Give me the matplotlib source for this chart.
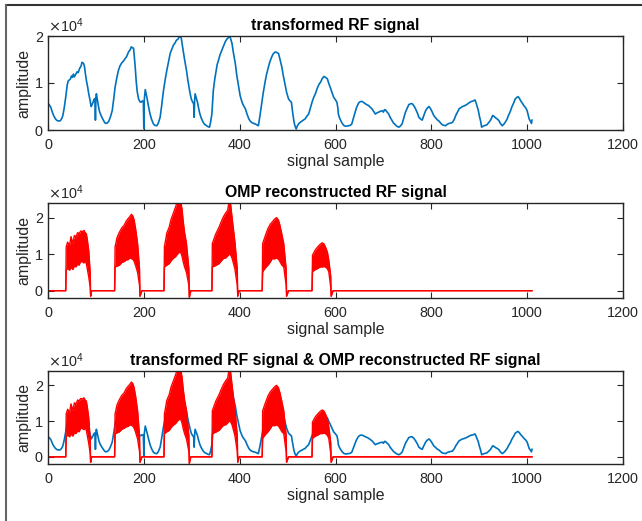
import matplotlib
matplotlib.use('Agg')
import matplotlib.pyplot as plt
from matplotlib.lines import Line2D
from matplotlib.ticker import ScalarFormatter

plt.rcParams['font.family'] = ['Liberation Sans', 'DejaVu Sans']

# transformed RF signal (sample index, amplitude)
blue_n = [0, 3, 6, 9, 12, 16, 19, 23, 26, 29, 31, 34, 37, 40, 42, 45, 47, 49, 51, 53, 55, 58, 61, 63, 66, 69, 71, 74, 76, 78,
          80, 83, 85, 88, 90, 92, 94, 96, 98, 99, 100, 101, 103, 104.5, 106, 108, 111, 114, 117, 120, 124, 127, 130, 134, 137,
          140, 144, 147, 150, 154, 157, 161, 164, 168, 171, 174, 176, 178.5, 180, 182, 184, 186, 189, 192, 194, 197, 199, 200,
          201, 203, 205, 207, 210, 213, 216, 220, 223, 227, 230, 234, 237, 241, 245, 248, 252, 255, 258, 262, 265, 268, 271,
          275, 278, 282, 285, 289, 292, 296, 299, 302, 304, 305, 306, 307, 309, 312, 314, 317, 320, 324, 327, 331, 334, 337,
          339, 342, 345, 348, 351, 353, 356, 359, 363, 366, 370, 373, 376, 379, 381, 384, 387, 391, 394, 398, 401, 405, 408,
          412, 415, 419, 422, 425, 429, 432, 436, 439, 442, 446, 449, 453, 456, 460, 463, 467, 470, 474, 477, 481, 484, 488,
          491, 495, 498, 502, 505, 508, 510, 513, 515, 518, 520, 523, 526, 530, 533, 537, 540, 544, 547, 551, 554, 558, 562,
          566, 569, 572, 576, 579, 583, 586, 590, 593, 596, 600, 603, 605, 606, 608, 611, 614, 618, 622, 627, 631, 634, 637,
          641, 644, 648, 651, 655, 658, 662, 665, 669, 672, 676, 680, 683, 686, 690, 694, 697, 700, 702, 704, 707, 711, 714,
          718, 721, 725, 728, 732, 735, 739, 742, 746, 750, 753, 757, 760, 764, 767, 771, 774, 778, 781, 784, 788, 791, 795,
          798, 802, 805, 809, 812, 816, 820, 823, 826, 830, 833, 837, 841, 844, 848, 851, 855, 858, 862, 865, 868, 872, 875,
          879, 882, 885, 888, 891, 893, 895, 898, 900, 903, 905, 908, 910, 913, 916, 920, 923, 926, 928, 931, 934, 938, 941,
          944, 948, 951, 954, 958, 961, 965, 968, 972, 975, 978, 981, 984, 986, 990, 993, 997, 1000, 1002, 1004, 1007, 1009,
          1010]
blue_amp = [5700, 5300, 4800, 3800, 3000, 2300, 2000, 1900, 2000, 2500, 3100, 4800, 7000, 9500, 10400, 10700, 10900, 11500,
            11200, 11900, 11300, 11900, 12400, 12200, 13100, 13600, 14400, 14200, 13600, 12000, 10600, 9000, 7700, 6200, 5000,
            5400, 5900, 6500, 6700, 2100, 6900, 7700, 6500, 5600, 4600, 3800, 3000, 2400, 1800, 1400, 1500, 1900, 2700, 4100,
            6500, 9100, 11300, 12700, 13600, 14300, 14600, 15200, 15600, 16600, 17000, 17700, 17500, 17400, 15800, 13400, 10500,
            8300, 6600, 6000, 5900, 6200, 6000, 300, 6500, 8600, 7600, 6600, 4900, 3400, 2300, 1300, 1000, 900, 1400, 2700,
            5000, 8400, 11000, 12700, 14800, 16300, 17100, 18100, 18500, 19100, 19300, 20000, 19600, 17000, 15000, 12700, 10500,
            8100, 6600, 5900, 5600, 2700, 6200, 7700, 7000, 5900, 4800, 3400, 2500, 1600, 1200, 900, 700, 600, 1500, 3400, 8400,
            10800, 12700, 13900, 14900, 16000, 17000, 17800, 18800, 19300, 19600, 19900, 19500, 18400, 16400, 14100, 11600, 9100,
            7300, 5900, 5200, 4500, 3500, 2400, 1900, 1600, 1400, 1300, 1100, 900, 2800, 5600, 7800, 10200, 11800, 13400, 14500,
            15600, 16200, 16600, 16500, 16300, 15100, 13400, 11600, 9500, 8000, 6600, 6200, 5900, 4200, 2000, 1000, 200, 800,
            1300, 1600, 1900, 2100, 2400, 2900, 3400, 4500, 5900, 6800, 7700, 8900, 9800, 10200, 10900, 11400, 11200, 10900, 9900,
            8800, 7900, 7000, 6400, 5900, 4600, 3400, 2700, 2000, 1400, 900, 800, 900, 1000, 1300, 2400, 3800, 4800, 5700, 6000,
            6100, 5900, 5600, 5400, 5200, 4900, 4500, 3900, 3400, 3600, 3800, 4000, 4100, 3800, 4300, 4300, 3900, 3400, 2700,
            2000, 1500, 1100, 800, 600, 800, 1300, 2400, 3800, 4700, 5400, 5600, 5600, 5100, 4500, 3600, 2700, 2300, 2100, 3000,
            4100, 4600, 5000, 4600, 3800, 3100, 2600, 2200, 1900, 1400, 1100, 1000, 900, 1200, 1400, 1500, 1600, 2300, 3100,
            3900, 4500, 4800, 5000, 5100, 5300, 5500, 5800, 6000, 6100, 6200, 6400, 5900, 5200, 4200, 3100, 1800, 600, 800, 900,
            1000, 1100, 1600, 2000, 2600, 3100, 2900, 2600, 2300, 2000, 1400, 900, 1200, 1600, 2300, 3100, 4000, 4900, 5800,
            6600, 6900, 7100, 6700, 6300, 5700, 5200, 4700, 4100, 3200, 2400, 1800, 1400, 2100]

# OMP reconstruction: the bursts oscillate fast, so keep their upper / lower envelopes
red_n = [0, 37, 38, 41, 45, 48, 52, 55, 58, 62, 65, 68, 72, 75, 78, 80, 82, 85, 88, 89, 91,
         139, 140, 144, 149, 154, 159, 163, 167, 171, 174, 177, 180, 183, 187, 191, 192, 196,
         242, 243, 248, 253, 257, 261, 266, 270, 274, 277, 280, 282, 285, 289, 294, 295, 298,
         342, 343, 350, 357, 362, 366, 371, 375, 378, 381, 384, 387, 390, 395, 396, 399,
         447, 448, 454, 459, 464, 468, 473, 477, 481, 484, 488, 492, 497, 498, 502,
         551, 552, 558, 563, 568, 572, 576, 579, 583, 586, 590, 591, 595, 1010]
red_hi = [0, 0, 12000, 13300, 12400, 14800, 12900, 15100, 14700, 15900, 15600, 16300, 16200, 16500, 15800, 15600, 14000,
          11000, 5000, -1500, 0,
          0, 12000, 14500, 16000, 17200, 17900, 19000, 19700, 20300, 20900, 20500, 19200, 16800, 12900, 6000, -1500, 0,
          0, 12000, 15800, 17400, 19600, 21000, 22800, 24500, 24500, 24500, 22000, 19200, 16000, 12900, 6000, -1800, 0,
          0, 12900, 15500, 17400, 19000, 20200, 21300, 22000, 24500, 23800, 20200, 16800, 13500, 6000, -1500, 0,
          0, 12900, 15200, 17000, 18200, 18800, 19600, 20000, 19300, 17900, 15500, 12900, 6000, -1500, 0,
          0, 9700, 11200, 12000, 12700, 13100, 12800, 12000, 10600, 8400, 4000, -1500, 0, 0]
red_lo = [0, 0, 5600, 6200, 5600, 6400, 5800, 6800, 6500, 7300, 7000, 8000, 7900, 7600, 8100, 7400, 6000, 3800, 1000, -1500,
          0,
          0, 6500, 6700, 7000, 7700, 8000, 8400, 8500, 9000, 8800, 8600, 8000, 6800, 5000, 1500, -1500, 0,
          0, 6500, 7000, 7400, 8200, 8800, 9300, 10000, 10500, 10500, 9300, 8000, 6500, 5000, 1500, -1800, 0,
          0, 6500, 6900, 7400, 8200, 8800, 9000, 9500, 10000, 9800, 9000, 7500, 6000, 1500, -1500, 0,
          0, 5200, 6300, 7000, 7900, 8800, 8700, 9000, 8600, 8000, 7000, 6500, 1500, -1500, 0,
          0, 5200, 5800, 6100, 6500, 6500, 6600, 6500, 6000, 5200, 1000, -1500, 0, 0]

titles = ['transformed RF signal', 'OMP reconstructed RF signal',
          'transformed RF signal & OMP reconstructed RF signal']
ylims = [(0, 20000), (-2000, 24000), (-2000, 24000)]

W, H = 642, 521
fig = plt.figure(figsize=(W / 100, H / 100), dpi=100)
fig.patch.set_facecolor('white')

# axes boxes in pixels: (top, bottom)
boxes = [(36, 130), (203, 298), (371, 464)]
axes = []
for (top, bot) in boxes:
    axes.append(fig.add_axes([48 / W, 1 - bot / H, (623 - 48) / W, (bot - top) / H]))

blue = '#0072BD'


def draw_red(ax):
    ax.fill_between(red_n, red_lo, red_hi, color='red', lw=0, zorder=3)
    ax.plot(red_n, red_hi, color='red', lw=1.0, zorder=3)
    ax.plot(red_n, red_lo, color='red', lw=1.0, zorder=3)


axes[0].plot(blue_n, blue_amp, color=blue, lw=1.2)
draw_red(axes[1])
axes[2].plot(blue_n, blue_amp, color=blue, lw=1.2, zorder=2)
draw_red(axes[2])

for ax, title, yl in zip(axes, titles, ylims):
    ax.set_xlim(0, 1200)
    ax.set_ylim(*yl)
    ax.set_xticks(range(0, 1201, 200))
    ax.set_yticks([0, 10000, 20000])
    fmt = ScalarFormatter(useMathText=True)
    fmt.set_powerlimits((0, 0))
    ax.yaxis.set_major_formatter(fmt)
    ax.yaxis.get_offset_text().set_fontsize(10.4)
    ax.yaxis.get_offset_text().set_color('#555555')
    ax.tick_params(direction='in', top=True, right=True, length=4, width=0.8,
                   color='#262626', labelcolor='#262626', labelsize=10.4)
    ax.tick_params(axis='x', pad=6)
    ax.tick_params(axis='y', pad=3)
    for sp in ax.spines.values():
        sp.set_color('#262626')
        sp.set_linewidth(1.0)
        sp.set_zorder(4)
    ax.set_title(title, fontsize=11.4, fontweight='bold', pad=4)
    ax.set_xlabel('signal sample', fontsize=11.4, color='#262626', labelpad=1)
    ax.set_ylabel('amplitude', fontsize=11.4, color='#262626', labelpad=2)

# frame lines along the top and left edge of the picture
fig.add_artist(Line2D([6 / W, 1], [1 - 4.5 / H, 1 - 4.5 / H], color='#333333', lw=1.5))
fig.add_artist(Line2D([6 / W, 6 / W], [0, 1 - 4.5 / H], color='#666666', lw=1.5))

fig.savefig('out.png', dpi=100)
